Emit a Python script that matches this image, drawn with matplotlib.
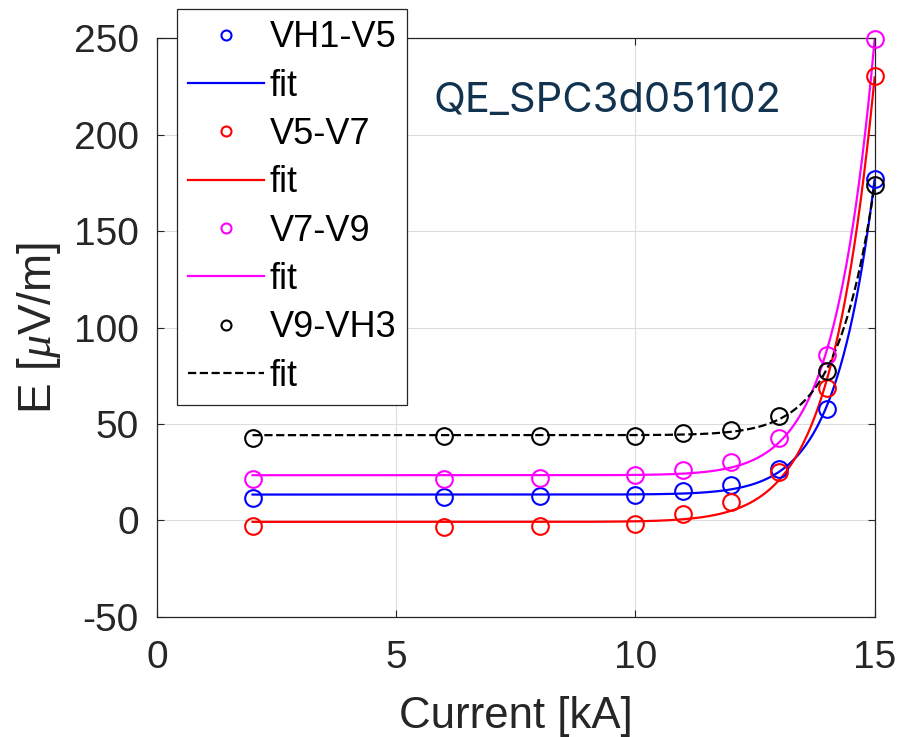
import numpy as np
import matplotlib.pyplot as plt

# current steps [kA]
current = np.array([2, 6, 8, 10, 11, 12, 13, 14, 15])

# electric field per voltage tap pair [uV/m]
e_vh1_v5 = np.array([11.7, 12.2, 12.5, 13.1, 15.5, 18.6, 26.5, 58.0, 177.0])
e_v5_v7 = np.array([-2.8, -3.5, -3.1, -1.7, 3.5, 9.6, 25.0, 68.9, 230.5])
e_v7_v9 = np.array([21.3, 21.3, 22.1, 23.7, 26.0, 30.5, 43.0, 86.0, 249.5])
e_v9_vh3 = np.array([43.0, 43.9, 43.9, 43.9, 45.1, 46.9, 54.0, 77.5, 174.0])

labels = ["VH1-V5", "V5-V7", "V7-V9", "V9-VH3"]
colors = ["#0000ff", "#ff0000", "#ff00ff", "#000000"]
styles = ["-", "-", "-", "--"]
sample_name = "QE_SPC3d051102"


def power_fit(x, y):
    # E = E0 + A * (I/15)^n, scan n and solve the linear part
    best = None
    for n in np.linspace(2, 60, 1161):
        basis = np.column_stack([np.ones_like(x, dtype=float), (x / 15.0) ** n])
        coef, res, _, _ = np.linalg.lstsq(basis, y, rcond=None)
        err = np.sum((basis @ coef - y) ** 2)
        if best is None or err < best[0]:
            best = (err, n, coef)
    return best[1], best[2]


plt.rcParams["font.family"] = ["Liberation Sans", "DejaVu Sans"]
plt.rcParams["mathtext.fontset"] = "custom"
plt.rcParams["mathtext.it"] = "Liberation Serif:italic"
plt.rcParams["axes.unicode_minus"] = False

fig = plt.figure(figsize=(9.12, 7.37), dpi=100)
ax = fig.add_axes([0.172, 0.163, 0.787, 0.785])

xfit = np.linspace(current[0], current[-1], 400)
handles = []
for y, lab, col, ls in zip([e_vh1_v5, e_v5_v7, e_v7_v9, e_v9_vh3],
                           labels, colors, styles):
    n, coef = power_fit(current, y)
    yfit = coef[0] + coef[1] * (xfit / 15.0) ** n
    pts, = ax.plot(current, y, "o", mfc="none", mec=col, ms=12,
                   mew=1.5, label=lab, zorder=3, clip_on=False)
    fl, = ax.plot(xfit, yfit, ls, color=col, lw=1.6, label="fit", zorder=2)
    handles += [pts, fl]

ax.set_xlim(0, 15)
ax.set_ylim(-50, 250)
ax.set_xticks([0, 5, 10, 15])
ax.set_yticks(np.arange(-50, 251, 50))
ax.grid(True, color="#dcdcdc", lw=0.8)
ax.set_axisbelow(True)
ax.tick_params(direction="in", top=True, right=True, length=5,
               labelsize=28, colors="#262626")
ax.tick_params(axis="x", pad=17)
ax.tick_params(axis="y", pad=13)
for s in ax.spines.values():
    s.set_color("#262626")
    s.set_linewidth(0.9)

ax.set_xlabel("Current [kA]", fontsize=31.5, color="#262626", labelpad=14)
ax.set_ylabel(r"E [$\mu$V/m]", fontsize=33, color="#262626", labelpad=8)

leg = ax.legend(handles=handles, loc="upper left",
                bbox_to_anchor=(0.028, 1.05), fontsize=26,
                handlelength=2.1, handletextpad=0.17, labelspacing=0.37,
                borderpad=0.3, borderaxespad=0, fancybox=False,
                framealpha=1, edgecolor="#262626", markerscale=0.6)
leg.get_frame().set_linewidth(0.9)

ax.text(0.385, 0.872, sample_name, transform=ax.transAxes, fontsize=30,
        family="Inter", color="#12334f")

fig.savefig("out.png", dpi=100)
